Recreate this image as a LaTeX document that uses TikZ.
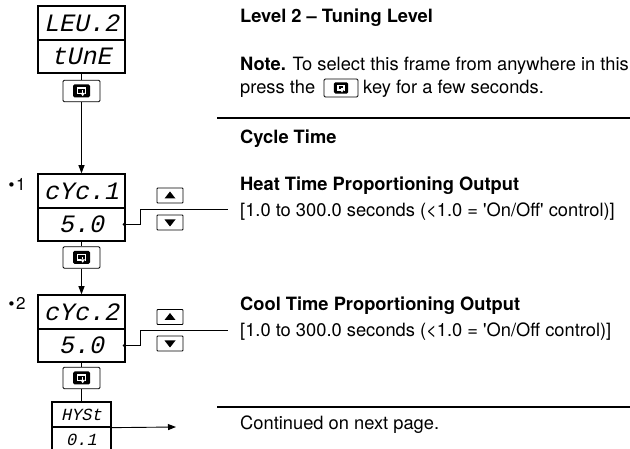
\documentclass[tikz,border=0pt]{standalone}
\usepackage{fontspec}
\newfontfamily\helv{TeX Gyre Heros}
\newfontfamily\dejavu{DejaVu Sans}
\newfontfamily\segfont[FakeSlant=0.22]{Liberation Mono}
\usetikzlibrary{arrows.meta}
\tikzset{
  disp/.style={draw, line width=2pt, minimum width=87pt, minimum height=33.5pt, inner sep=0pt,
    font=\segfont\fontsize{25}{25}\selectfont},
  hbox/.style={draw, line width=1.3pt, minimum width=59pt, minimum height=25pt, inner sep=0pt,
    font=\segfont\fontsize{17}{17}\selectfont},
  keybox/.style={draw, line width=0.8pt, rounded corners=1.2pt, minimum width=37pt, minimum height=21.5pt, inner sep=0pt},
  ikeybox/.style={draw, line width=0.8pt, rounded corners=1.2pt, minimum width=34pt, minimum height=18pt, inner sep=0pt},
  arrowkey/.style={draw, line width=0.8pt, rounded corners=0.8pt, minimum width=26pt, minimum height=15pt, inner sep=0pt},
  conn/.style={line width=0.9pt},
  arr/.style={conn, -{Triangle[length=8pt,width=6pt]}},
  body/.style={font=\helv\fontsize{18.3}{22}\selectfont, inner sep=0pt, anchor=base west},
  bodyb/.style={body, font=\helv\fontsize{18.3}{22}\selectfont\bfseries},
  bul/.style={font=\helv\fontsize{17}{18}\selectfont, inner sep=0pt, anchor=base west},
  rule/.style={line width=1.2pt},
  keyicon/.pic={
    \fill[rounded corners=1.5pt] (-8.5,-6.5) rectangle (8.5,6.5);
    \draw[white, line width=1.5pt] (-0.5,2.5) -- (-3.8,2.5) -- (-3.8,-3) -- (3.8,-3) -- (3.8,2.5) -- (3,2.5);
    \draw[white, line width=1.5pt] (1.2,-0.5) -- (1.2,2);
    \fill[white] (-1.2,1.8) -- (3.6,1.8) -- (1.2,5.2) -- cycle;
  },
  uptri/.pic={\fill (-5.5,3) -- (5.5,3) -- (0,-4) -- cycle;},
  dntri/.pic={\fill (-5.5,-3) -- (5.5,-3) -- (0,4) -- cycle;}
}
\begin{document}
\begin{tikzpicture}[x=1pt,y=-1pt]
\useasboundingbox (0,0) rectangle (630,449);
\clip (0,0) rectangle (630,449);

% --- left column: displays and keys ---
\node[disp] (lev)  at (81.5,23.25) {LEU.2};
\node[disp] (tune) at (81.5,56.75) {tUnE};
\node[keybox] (k1) at (81.5,91) {};
\pic at (k1.center) {keyicon};

\node[disp] (cyc1) at (81.5,191) {cYc.1};
\node[disp] (v1)   at (81.5,224.5) {5.0};
\node[keybox] (k2) at (81.5,257.5) {};
\pic at (k2.center) {keyicon};

\node[disp] (cyc2) at (81.5,312) {cYc.2};
\node[disp] (v2)   at (81.5,345.5) {5.0};
\node[keybox] (k3) at (81.5,378) {};
\pic at (k3.center) {keyicon};

\node[hbox] (hyst) at (81.5,414.5) {HYSt};
\node[hbox] (hval) at (81.5,439.5) {0.1};

\node[bul] (b1) at (7,191) {{\dejavu\fontsize{15}{16}\selectfont •}1};
\node[bul] (b2) at (7,310) {{\dejavu\fontsize{15}{16}\selectfont •}2};

% up / down keys
\node[arrowkey] (up1) at (170,195.5) {};
\pic at (up1.center) {uptri};
\node[arrowkey] (dn1) at (170,222.5) {};
\pic at (dn1.center) {dntri};
\node[arrowkey] (up2) at (170,317) {};
\pic at (up2.center) {uptri};
\node[arrowkey] (dn2) at (170,343.5) {};
\pic at (dn2.center) {dntri};

% connectors
\draw[conn] (tune.south) -- (k1.north);
\draw[arr] (k1.south) -- (cyc1.north);
\draw[conn] (v1.south) -- (k2.north);
\draw[arr] (k2.south) -- (cyc2.north);
\draw[conn] (v2.south) -- (k3.north);
\draw[conn] (k3.south) -- (hyst.north);

\coordinate (e1) at (124,224.5);
\coordinate (c1) at (228,209.5);
\fill (e1) circle (1.5pt);
\draw[conn] (e1) -- (140,224.5) |- (c1);

\coordinate (e2) at (124,345.5);
\coordinate (c2) at (228,330);
\fill (e2) circle (1.5pt);
\draw[conn] (e2) -- (140,345.5) |- (c2);

\coordinate (c3) at (176,427);
\draw[arr] (hyst.south east) -- (c3);

% --- right column: text ---
\node[bodyb] (h1) at (240,23) {Level 2 – Tuning Level};
\node[body] (n1) at (240,71) {\textbf{Note.} To select this frame from anywhere in this};
\node[body] (n2) at (240,94) {press the};
\node[ikeybox] (ik) at (341,88) {};
\pic[scale=0.85] at (ik.center) {keyicon};
\node[body] (n3) at (363,94) {key for a few seconds.};

\coordinate (r1a) at (217,118);
\coordinate (r1b) at (630,118);
\draw[rule] (r1a) -- (r1b);

\node[bodyb] (ct) at (240,144) {Cycle Time};
\node[bodyb] (ht) at (240,191) {Heat Time Proportioning Output};
\node[body] (hr) at (240,217) {[1.0 to 300.0 seconds (<1.0 = 'On/Off' control)]};
\node[bodyb] (cl) at (240,311) {Cool Time Proportioning Output};
\node[body] (cr) at (240,337) {[1.0 to 300.0 seconds (<1.0 = 'On/Off control)]};

\coordinate (r2a) at (217,407);
\coordinate (r2b) at (630,407);
\draw[rule] (r2a) -- (r2b);
\node[body] (cn) at (240,429) {Continued on next page.};
\end{tikzpicture}
\end{document}
